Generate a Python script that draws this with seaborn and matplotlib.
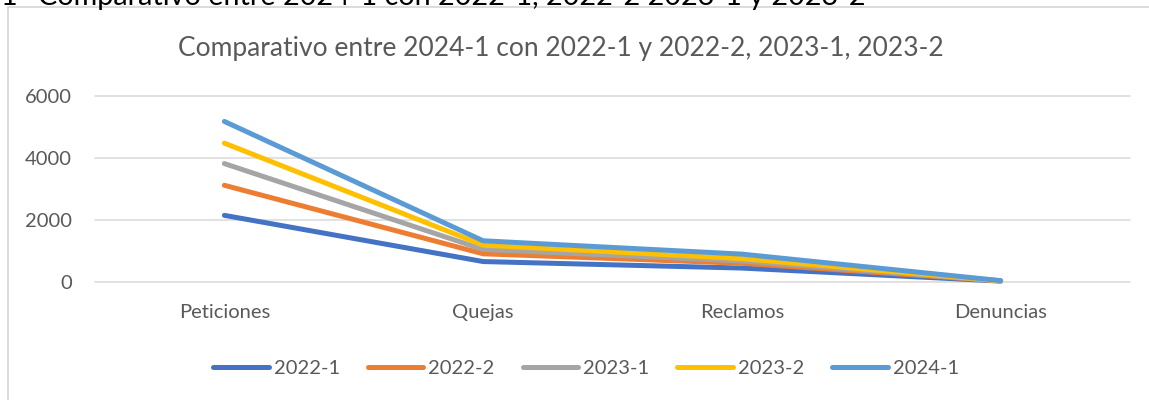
import matplotlib
matplotlib.use("Agg")
import matplotlib.pyplot as plt
from matplotlib.lines import Line2D
import seaborn as sns
import pandas as pd

# ---- data ----
categories = ["Peticiones", "Quejas", "Reclamos", "Denuncias"]
periods = ["2022-1", "2022-2", "2023-1", "2023-2", "2024-1"]
v_2022_1 = [2140, 650, 440, 20]
v_2022_2 = [3110, 900, 595, 25]
v_2023_1 = [3810, 1040, 670, 25]
v_2023_2 = [4470, 1180, 745, 30]
v_2024_1 = [5170, 1320, 890, 35]
y_ticks = [0, 2000, 4000, 6000]
chart_title = "Comparativo entre 2024-1 con 2022-1 y 2022-2, 2023-1, 2023-2"
heading = "Comparativo entre 2024-1 con 2022-1, 2022-2 2023-1 y 2023-2"
heading_num = "1"

series = [v_2022_1, v_2022_2, v_2023_1, v_2023_2, v_2024_1]
colors = ["#4472C4", "#ED7D31", "#A5A5A5", "#FFC000", "#5B9BD5"]

rows = []
for p, vals in zip(periods, series):
    for c, v in zip(categories, vals):
        rows.append({"Categoria": c, "Periodo": p, "Valor": v})
df = pd.DataFrame(rows)

sns.set_theme(style="white")
plt.rcParams["font.family"] = ["Lato", "DejaVu Sans"]

W, H = 1149, 400
fig = plt.figure(figsize=(W / 100, H / 100), dpi=100)
fig.patch.set_facecolor("white")

ax_l, ax_r, ax_t, ax_b = 95, 1130, 95.7, 281.7
ax = fig.add_axes([ax_l / W, 1 - ax_b / H, (ax_r - ax_l) / W, (ax_b - ax_t) / H])

lw = 5 * 72 / 100
sns.lineplot(data=df, x="Categoria", y="Valor", hue="Periodo", hue_order=periods,
             palette=colors, linewidth=lw, sort=False, ax=ax, legend=False,
             solid_capstyle="round", solid_joinstyle="round")

txt_col = "#595959"
fs = 14.5
ax.set_xlim(-0.5, 3.5)
ax.set_ylim(0, 6000)
ax.set_yticks(y_ticks)
ax.set_yticklabels([str(t) for t in y_ticks])
ax.set_xticks(range(len(categories)))
ax.set_xticklabels(categories)
ax.set_xlabel("")
ax.set_ylabel("")
for s in ax.spines.values():
    s.set_visible(False)
ax.yaxis.grid(True, color="#D9D9D9", linewidth=1.1)
ax.xaxis.grid(False)
ax.set_axisbelow(True)
for gl in ax.get_ygridlines():
    gl.set_clip_on(False)
for ln in ax.get_lines():
    ln.set_clip_on(False)
ax.tick_params(axis="both", length=0, labelsize=fs, labelcolor=txt_col)
ax.tick_params(axis="y", pad=16.5)
ax.tick_params(axis="x", pad=16)

# legend
handles = [Line2D([0], [0], color=c, linewidth=lw, solid_capstyle="round") for c in colors]
leg = fig.legend(handles, periods, loc="center", bbox_to_anchor=(586 / W, 1 - 368 / H),
                 ncol=5, frameon=False, fontsize=fs, handlelength=2.75,
                 handletextpad=0.25, columnspacing=1.4, labelcolor=txt_col)

# titles
r = fig.canvas.get_renderer()

def fit(t, target):
    w = t.get_window_extent(r).width
    t.set_fontsize(t.get_fontsize() * target / w)

t1 = fig.text(560.5 / W, 1 - 56 / H, chart_title, ha="center", va="baseline",
              fontsize=16, color=txt_col)
fit(t1, 765)
t2 = fig.text(38 / W, 1 - 5 / H, heading, ha="left", va="baseline",
              fontsize=20, color="black")
fit(t2, 824)
fig.text(1 / W, 1 - 5 / H, heading_num, ha="left", va="baseline",
         fontsize=t2.get_fontsize(), color="black")

# chart frame (left and top border)
fcol = "#D9D9D9"
fig.add_artist(Line2D([7.5 / W, 7.5 / W], [0, 1 - 7 / H], transform=fig.transFigure,
                      color=fcol, linewidth=1.3))
fig.add_artist(Line2D([7.5 / W, 1], [1 - 7 / H, 1 - 7 / H], transform=fig.transFigure,
                      color=fcol, linewidth=1.3))

fig.savefig("out.png", dpi=100, facecolor="white")
